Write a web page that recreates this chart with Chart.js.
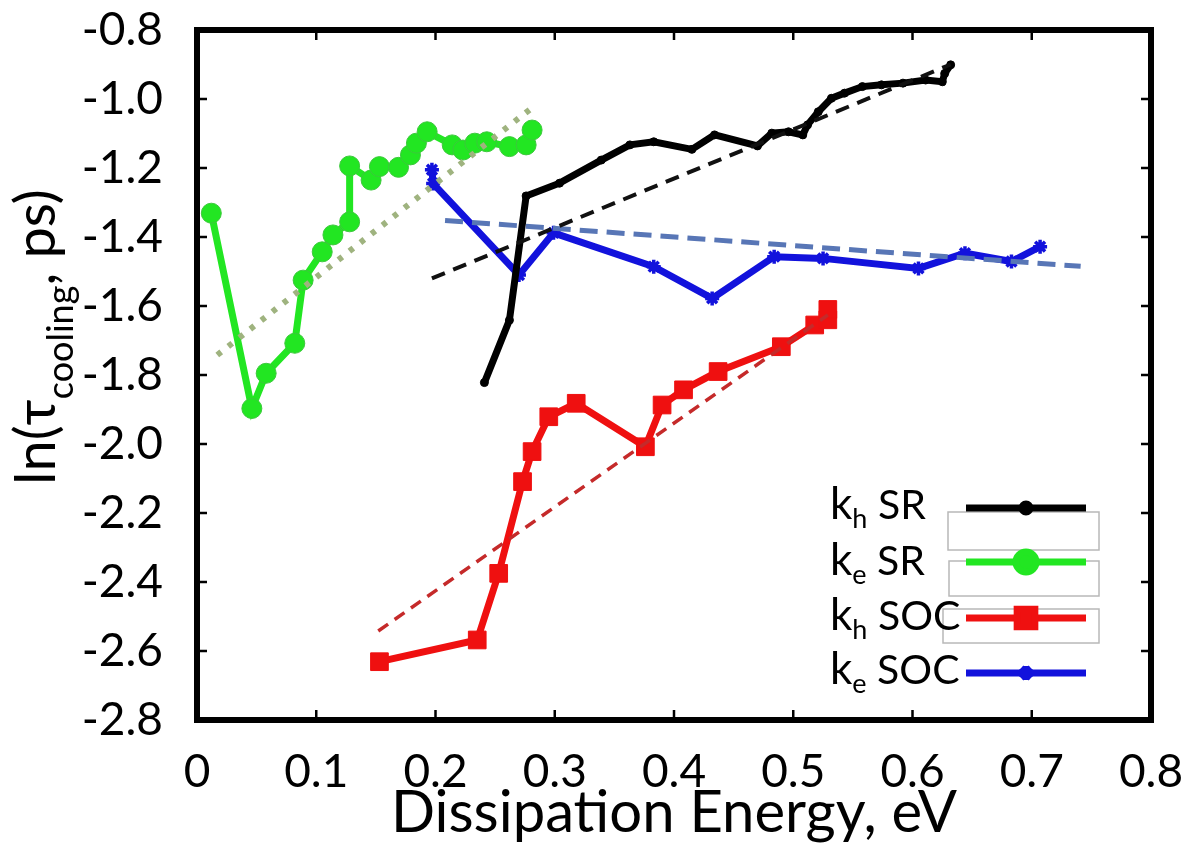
<!DOCTYPE html>
<html>
<head>
<meta charset="utf-8">
<script src="https://cdn.jsdelivr.net/npm/chart.js@4.4.1/dist/chart.umd.min.js"></script>
<style>
  body { margin: 0; background: #fff; }
</style>
</head>
<body>
<canvas id="cooling" width="1190" height="848"></canvas>
<script>
console.log('cooling.js')
// kh SR (black)
const khSR_x = [0.241, 0.262, 0.276, 0.304, 0.339, 0.363, 0.383, 0.415, 0.434, 0.470, 0.482, 0.496, 0.508, 0.512, 0.521, 0.532, 0.543, 0.558, 0.574, 0.592, 0.611, 0.625, 0.627, 0.632];
const khSR_y = [-1.822, -1.641, -1.281, -1.244, -1.177, -1.133, -1.124, -1.146, -1.104, -1.136, -1.099, -1.095, -1.104, -1.075, -1.037, -0.998, -0.983, -0.964, -0.959, -0.954, -0.945, -0.950, -0.926, -0.901];
// ke SR (green)
const keSR_x = [0.012, 0.046, 0.058, 0.082, 0.089, 0.105, 0.114, 0.128, 0.128, 0.146, 0.153, 0.169, 0.179, 0.184, 0.193, 0.214, 0.223, 0.233, 0.243, 0.262, 0.276, 0.281];
const keSR_y = [-1.331, -1.897, -1.795, -1.708, -1.525, -1.443, -1.394, -1.356, -1.194, -1.235, -1.196, -1.198, -1.162, -1.128, -1.095, -1.133, -1.148, -1.128, -1.124, -1.138, -1.133, -1.090];
// kh SOC (red)
const khSOC_x = [0.153, 0.235, 0.253, 0.273, 0.281, 0.295, 0.318, 0.376, 0.390, 0.408, 0.437, 0.490, 0.518, 0.529, 0.529];
const khSOC_y = [-2.631, -2.568, -2.375, -2.109, -2.022, -1.921, -1.882, -2.008, -1.887, -1.843, -1.790, -1.718, -1.655, -1.640, -1.610];
// ke SOC (blue)
const keSOC_x = [0.197, 0.198, 0.270, 0.299, 0.383, 0.432, 0.484, 0.525, 0.605, 0.644, 0.683, 0.707];
const keSOC_y = [-1.205, -1.245, -1.510, -1.388, -1.486, -1.578, -1.457, -1.462, -1.491, -1.447, -1.471, -1.428];

// linear fits (end points)
const fitKhSR_x = [0.197, 0.632];
const fitKhSR_y = [-1.520, -0.900];
const fitKeSR_x = [0.017, 0.280];
const fitKeSR_y = [-1.742, -1.028];
const fitKhSOC_x = [0.152, 0.529];
const fitKhSOC_y = [-2.542, -1.626];
const fitKeSOC_x = [0.208, 0.741];
const fitKeSOC_y = [-1.352, -1.485];

const xTicks = [0, 0.1, 0.2, 0.3, 0.4, 0.5, 0.6, 0.7, 0.8];
const yTicks = [-0.8, -1.0, -1.2, -1.4, -1.6, -1.8, -2.0, -2.2, -2.4, -2.6, -2.8];

function pts(xs, ys) {
    return xs.map((x, i) => ({x: x, y: ys[i]}));
}

function series(label, xs, ys, color, style, radius, extra) {
    return Object.assign({
        label: label,
        data: pts(xs, ys),
        showLine: true,
        borderColor: color,
        backgroundColor: color,
        borderWidth: 7,
        pointStyle: style,
        pointRadius: radius,
        pointBorderWidth: 1,
        pointBorderColor: color,
        pointBackgroundColor: color,
        tension: 0,
        order: 2
    }, extra || {});
}

function fit(xs, ys, color, width, dash) {
    return {
        label: 'fit',
        data: pts(xs, ys),
        showLine: true,
        borderColor: color,
        borderWidth: width,
        borderDash: dash,
        pointRadius: 0,
        tension: 0,
        order: 1
    };
}

const FONT = 'Lato, "Open Sans", sans-serif';

// frame, inner ticks, y title and legend
const decorations = {
    id: 'decorations',
    afterDraw(chart) {
        const ctx = chart.ctx;
        const a = chart.chartArea;
        const xs = chart.scales.x, ys = chart.scales.y;
        ctx.save();
        // inner ticks
        ctx.strokeStyle = '#000';
        ctx.lineWidth = 2.5;
        ctx.beginPath();
        xTicks.slice(1, -1).forEach(v => {
            const px = xs.getPixelForValue(v);
            ctx.moveTo(px, a.bottom); ctx.lineTo(px, a.bottom - 10);
            ctx.moveTo(px, a.top); ctx.lineTo(px, a.top + 10);
        });
        yTicks.slice(1, -1).forEach(v => {
            const py = ys.getPixelForValue(v);
            ctx.moveTo(a.left, py); ctx.lineTo(a.left + 10, py);
            ctx.moveTo(a.right, py); ctx.lineTo(a.right - 10, py);
        });
        ctx.stroke();
        // frame
        ctx.lineWidth = 6;
        ctx.strokeRect(a.left, a.top, a.right - a.left, a.bottom - a.top);

        // y title  ln(τ_cooling, ps)
        ctx.translate(55, 337);
        ctx.rotate(-Math.PI / 2);
        ctx.fillStyle = '#000';
        ctx.textBaseline = 'alphabetic';
        const big = '56px ' + FONT, small = '36px ' + FONT;
        const parts = [['ln(\u03c4', big, 0], ['cooling', small, 18], [', ps)', big, 0]];
        let total = 0;
        parts.forEach(p => { ctx.font = p[1]; total += ctx.measureText(p[0]).width; });
        let cx = -total / 2;
        parts.forEach(p => {
            ctx.font = p[1];
            ctx.fillText(p[0], cx, p[2]);
            cx += ctx.measureText(p[0]).width;
        });
        ctx.restore();

        // legend
        ctx.save();
        const rows = [
            {sub: 'h', rest: ' SR', ds: 0, ly: 508, by: 519},
            {sub: 'e', rest: ' SR', ds: 1, ly: 562, by: 575},
            {sub: 'h', rest: ' SOC', ds: 2, ly: 618, by: 630},
            {sub: 'e', rest: ' SOC', ds: 3, ly: 673, by: 684}
        ];
        // stray empty boxes in the original legend
        ctx.strokeStyle = '#b8b8b8';
        ctx.lineWidth = 1.5;
        ctx.strokeRect(948, 512, 151, 38);
        ctx.strokeRect(949, 561, 150, 35);
        ctx.strokeRect(943, 609, 156, 34);
        rows.forEach(r => {
            const d = chart.data.datasets[r.ds];
            ctx.fillStyle = '#000';
            ctx.textBaseline = 'alphabetic';
            let x = 830;
            ctx.font = '44px ' + FONT;
            ctx.fillText('k', x, r.by);
            x += ctx.measureText('k').width;
            ctx.font = '27px ' + FONT;
            ctx.fillText(r.sub, x, r.by + 9);
            x += ctx.measureText(r.sub).width;
            ctx.font = '41px ' + FONT;
            ctx.fillText(r.rest, x, r.by);
            ctx.strokeStyle = d.borderColor;
            ctx.lineWidth = 7;
            ctx.beginPath();
            ctx.moveTo(966, r.ly); ctx.lineTo(1086, r.ly);
            ctx.stroke();
            ctx.fillStyle = d.pointBackgroundColor;
            Chart.helpers.drawPoint(ctx, {
                pointStyle: d.pointStyle, radius: d.pointRadius, borderWidth: d.pointBorderWidth
            }, 1026, r.ly);
        });
        ctx.restore();
    }
};

const config = {
    type: 'scatter',
    data: {
        datasets: [
            series('kh SR', khSR_x, khSR_y, '#000000', 'circle', 4),
            series('ke SR', keSR_x, keSR_y, '#22e622', 'circle', 10, {pointBorderColor: '#3cc83c'}),
            series('kh SOC', khSOC_x, khSOC_y, '#ef1010', 'rect', 12.5),
            series('ke SOC', keSOC_x, keSOC_y, '#1212dc', 'star', 7, {pointBorderWidth: 3.5}),
            fit(fitKhSR_x, fitKhSR_y, '#111111', 4, [14, 9]),
            fit(fitKeSR_x, fitKeSR_y, '#9fb37f', 6, [5, 9]),
            fit(fitKhSOC_x, fitKhSOC_y, '#c52a2a', 3.5, [12, 8]),
            fit(fitKeSOC_x, fitKeSOC_y, '#5876b6', 5, [18, 9])
        ]
    },
    options: {
        responsive: false,
        animation: false,
        layout: { padding: { top: 30, right: 39, left: 0, bottom: 0 } },
        plugins: {
            legend: { display: false },
            tooltip: { enabled: false }
        },
        scales: {
            x: {
                type: 'linear',
                min: 0,
                max: 0.8,
                afterBuildTicks: s => { s.ticks = xTicks.map(v => ({value: v})); },
                afterFit: s => { s.height = 128; s.paddingLeft = 0; s.paddingRight = 0; },
                grid: { display: false },
                border: { display: false },
                ticks: {
                    color: '#000',
                    padding: 17,
                    font: { family: FONT, size: 46 },
                    callback: v => (v === 0 ? '0' : v.toFixed(1))
                },
                title: {
                    display: true,
                    text: 'Dissipation Energy, eV',
                    color: '#000',
                    font: { family: FONT, size: 58 },
                    padding: { top: 0, bottom: 0 }
                }
            },
            y: {
                type: 'linear',
                min: -2.8,
                max: -0.8,
                afterBuildTicks: s => { s.ticks = yTicks.map(v => ({value: v})); },
                afterFit: s => { s.width = 197; s.paddingTop = 0; s.paddingBottom = 0; },
                grid: { display: false },
                border: { display: false },
                ticks: {
                    color: '#000',
                    padding: 26,
                    font: { family: FONT, size: 46 },
                    callback: v => v.toFixed(1)
                }
            }
        }
    },
    plugins: [decorations]
};

const mychart = new Chart('cooling', config);
</script>
</body>
</html>
